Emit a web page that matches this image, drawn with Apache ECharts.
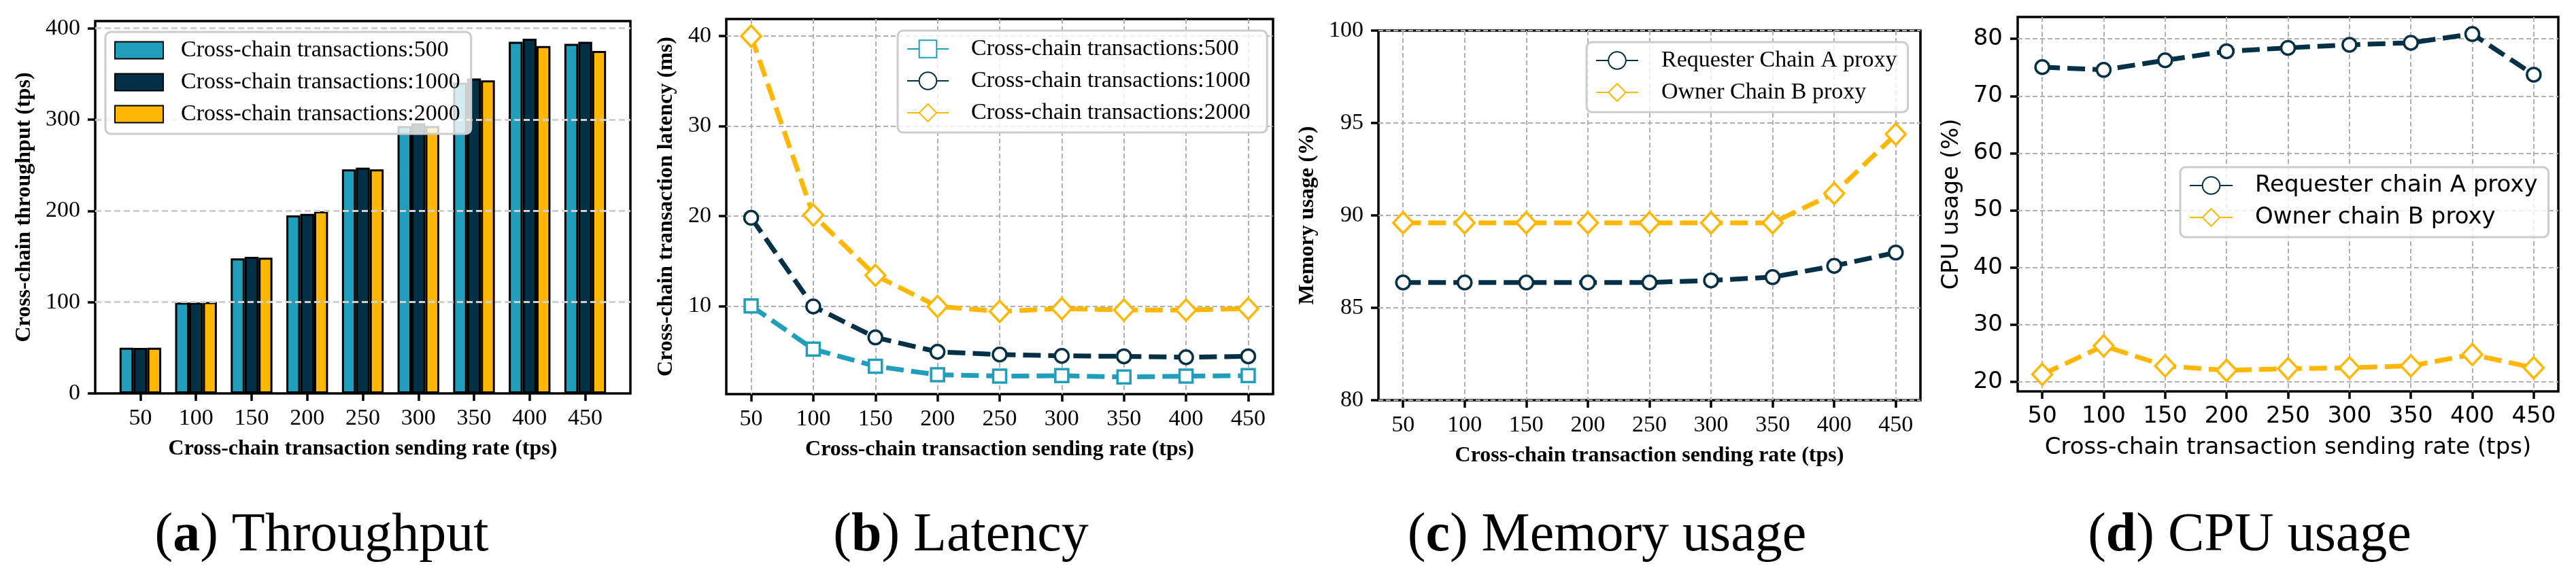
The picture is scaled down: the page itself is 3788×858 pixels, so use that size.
<!DOCTYPE html>
<html><head><meta charset="utf-8">
<script src="https://cdn.jsdelivr.net/npm/echarts@6/dist/echarts.min.js"></script>
<style>html,body{margin:0;padding:0;background:#fff}#c{width:3788px;height:858px}</style>
</head><body><div id="c"></div><script>
// ---- data ----
const rates = [50, 100, 150, 200, 250, 300, 350, 400, 450];
const rateTicks = [50, 100, 150, 200, 250, 300, 350, 400, 450];

const tputNames = ['Cross-chain transactions:500', 'Cross-chain transactions:1000', 'Cross-chain transactions:2000'];
const tput500  = [50, 99.5, 148, 195, 245.5, 293, 340.5, 385.2, 383];
const tput1000 = [49.9, 99.5, 149.6, 196.8, 247.3, 296, 345, 388.6, 385.2];
const tput2000 = [50, 100.2, 148.7, 199.5, 245.5, 293, 343, 380.6, 375.3];
const tputTicks = [0, 100, 200, 300, 400];

const latNames = ['Cross-chain transactions:500 ', 'Cross-chain transactions:1000 ', 'Cross-chain transactions:2000 '];
const lat500  = [10, 5.2, 3.3, 2.35, 2.2, 2.25, 2.1, 2.2, 2.25];
const lat1000 = [19.8, 9.95, 6.5, 4.9, 4.6, 4.45, 4.4, 4.3, 4.4];
const lat2000 = [40, 20.1, 13.4, 9.95, 9.4, 9.7, 9.55, 9.55, 9.7];
const latTicks = [10, 20, 30, 40];

const memNames = ['Requester Chain A proxy', 'Owner Chain B proxy'];
const memA = [86.37, 86.37, 86.37, 86.37, 86.37, 86.48, 86.66, 87.27, 87.99];
const memB = [89.6, 89.6, 89.6, 89.6, 89.6, 89.6, 89.6, 91.19, 94.39];
const memTicks = [80, 85, 90, 95, 100];

const cpuNames = ['Requester chain A proxy', 'Owner chain B proxy'];
const cpuA = [75.06, 74.57, 76.25, 77.83, 78.42, 78.96, 79.31, 80.84, 73.73];
const cpuB = [21.33, 26.32, 22.81, 22.02, 22.32, 22.47, 22.81, 24.79, 22.47];
const cpuTicks = [20, 30, 40, 50, 60, 70, 80];

const xTitle = 'Cross-chain transaction sending rate (tps)';
const captions = [['a', 'Throughput'], ['b', 'Latency'], ['c', 'Memory usage'], ['d', 'CPU usage']];

// ---- styling ----
const C1 = '#219ebc', C2 = '#023047', C3 = '#ffb703';
const SERIF = 'Liberation Serif', SANS = 'DejaVu Sans';
const pts = arr => rates.map((x, i) => [x, arr[i]]);

const grids = [
  {left: 140, top: 31, width: 787, height: 548},
  {left: 1068, top: 28, width: 804, height: 552},
  {left: 2027, top: 45, width: 797, height: 544},
  {left: 2967, top: 25, width: 795, height: 551}
].map(g => Object.assign({show: true, borderColor: '#000', borderWidth: 3.5, backgroundColor: 'transparent', outerBoundsMode: 'none'}, g));

function xAx(idx, font, min, max, vgrid) {
  return {
    type: 'value', gridIndex: idx, min: min, max: max,
    axisLine: {show: false},
    axisTick: {show: true, inside: false, length: 11, lineStyle: {color: '#000', width: 3.5}, customValues: rateTicks},
    axisLabel: {show: true, customValues: rateTicks, color: '#000', fontFamily: font, fontSize: 34, margin: 20},
    splitLine: vgrid ? {show: true, lineStyle: {color: '#b0b0b0', width: 2, type: [7, 4]}} : {show: false},
    name: xTitle, nameLocation: 'middle', nameGap: 66,
    nameTextStyle: {color: '#000', fontFamily: font, fontSize: font === SERIF ? 32 : 34, fontWeight: font === SERIF ? 'bold' : 'normal'}
  };
}
function yAx(idx, font, min, max, ticks, name, nameGap, gridStyle, z, hideMin) {
  return {
    type: 'value', gridIndex: idx, min: min, max: max, z: z || 0,
    axisLine: {show: false},
    axisTick: {show: true, inside: false, length: 11, lineStyle: {color: '#000', width: 3.5}, customValues: ticks},
    axisLabel: {show: true, customValues: ticks, color: '#000', fontFamily: font, fontSize: 34, margin: 22},
    splitLine: {show: true, showMinLine: !hideMin, lineStyle: gridStyle},
    name: name, nameLocation: 'middle', nameRotate: 90, nameGap: nameGap,
    nameTextStyle: {color: '#000', fontFamily: font, fontSize: font === SERIF ? 32 : 34, fontWeight: font === SERIF ? 'bold' : 'normal'}
  };
}
const lineGrid = {color: '#b0b0b0', width: 2, type: [7, 4]};

function lineSeries(name, arr, color, symbol, size, idx) {
  return {
    type: 'line', name: name, xAxisIndex: idx, yAxisIndex: idx, data: pts(arr),
    symbol: symbol, symbolSize: size, showAllSymbol: true,
    lineStyle: {color: color, width: 7, type: [26, 11]},
    itemStyle: {color: '#ffffff', borderColor: color, borderWidth: 3.5},
    emphasis: {disabled: true}, animation: false
  };
}
function barSeries(name, arr, color) {
  return {
    type: 'bar', name: name, xAxisIndex: 0, yAxisIndex: 0, data: pts(arr),
    barWidth: '25%', barGap: '0%',
    itemStyle: {color: color, borderColor: '#000', borderWidth: 3},
    emphasis: {disabled: true}, animation: false
  };
}
function legend(names, font, left, top, iconW, iconH, textPad, icon) {
  const l = {
    data: names, orient: 'vertical', left: left, top: top, itemGap: 13,
    itemWidth: iconW, itemHeight: iconH,
    padding: [10, 16, 12, 13],
    backgroundColor: 'rgba(255,255,255,0.8)', borderColor: '#cccccc', borderWidth: 3, borderRadius: 8,
    textStyle: {color: '#000', fontFamily: font, fontSize: 34, padding: [0, 0, 0, textPad]},
    selectedMode: false, z: 20
  };
  if (icon) l.icon = icon;
  return l;
}

const option = {
  animation: false,
  backgroundColor: '#fff',
  grid: grids,
  xAxis: [
    xAx(0, SERIF, 9.375, 490.625, false),
    xAx(1, SERIF, 30, 470, true),
    xAx(2, SERIF, 30, 470, true),
    xAx(3, SANS, 30, 470, true)
  ],
  yAxis: [
    yAx(0, SERIF, 0, 408, tputTicks, 'Cross-chain throughput (tps)', 88, {color: '#d0d0d0', width: 3, type: [9, 5]}, 3, true),
    yAx(1, SERIF, 0.2, 41.9, latTicks, 'Cross-chain transaction latency (ms)', 72, lineGrid),
    yAx(2, SERIF, 80, 100, memTicks, 'Memory usage (%)', 88, lineGrid),
    yAx(3, SANS, 18.35, 83.82, cpuTicks, 'CPU usage (%)', 80, lineGrid)
  ],
  legend: [
    legend(tputNames, SERIF, 155, 47, 71, 25, 21, 'rect'),
    legend(latNames, SERIF, 1320, 45, 61, 32, 28),
    legend(memNames, SERIF, 2333, 62, 62, 32, 29),
    legend(cpuNames, SANS, 3206, 246, 63, 32, 28)
  ],
  series: [
    barSeries(tputNames[0], tput500, C1),
    barSeries(tputNames[1], tput1000, C2),
    barSeries(tputNames[2], tput2000, C3),
    lineSeries(latNames[0], lat500, C1, 'rect', 19, 1),
    lineSeries(latNames[1], lat1000, C2, 'circle', 20, 1),
    lineSeries(latNames[2], lat2000, C3, 'diamond', [29, 31], 1),
    lineSeries(memNames[0], memA, C2, 'circle', 20, 2),
    lineSeries(memNames[1], memB, C3, 'diamond', [29, 31], 2),
    lineSeries(cpuNames[0], cpuA, C2, 'circle', 20, 3),
    lineSeries(cpuNames[1], cpuB, C3, 'diamond', [29, 31], 3)
  ],
  graphic: captions.map((c, i) => ({
    type: 'text', x: [473, 1413, 2363, 3308][i], y: 789, silent: true,
    style: {
      text: '({b|' + c[0] + '}) ' + c[1], fill: '#000', fontFamily: SERIF, fontSize: 80,
      align: 'center', verticalAlign: 'middle',
      rich: {b: {fontWeight: 'bold', fontFamily: SERIF, fontSize: 80, fill: '#000'}}
    }
  }))
};
const chart = echarts.init(document.getElementById('c'), null, {renderer: 'canvas'});
chart.setOption(option);
</script></body></html>
